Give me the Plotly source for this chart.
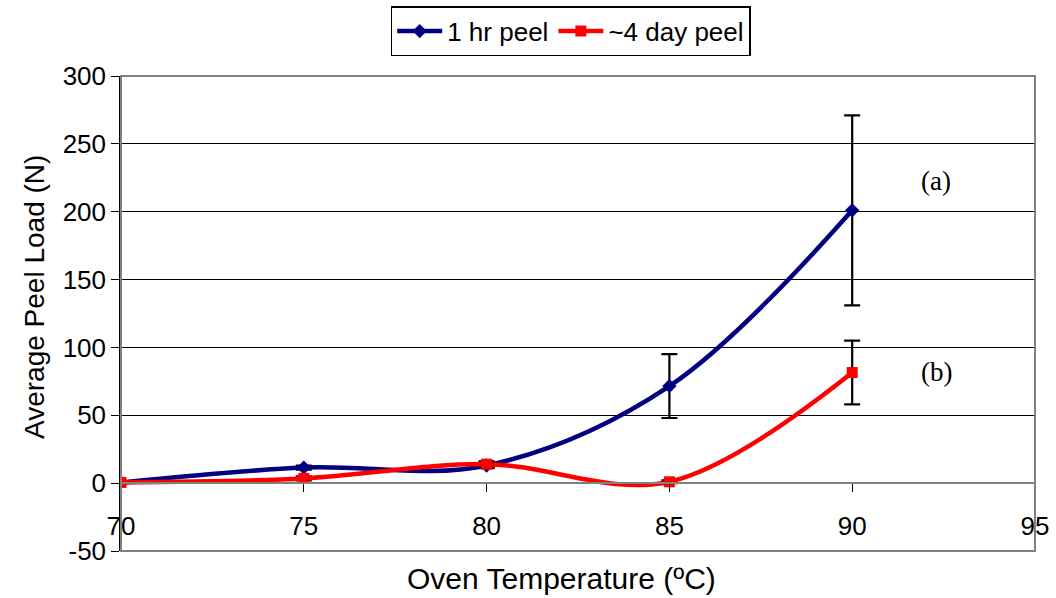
import plotly.graph_objects as go

temps = [70, 75, 80, 85, 90]
peel_1hr = [0.5, 11.5, 13, 71.5, 201]
err_1hr = [0.5, 1.5, 2, 23.5, 70]
peel_4day = [0.5, 3.5, 14, 1, 81.5]
err_4day = [0.5, 1.5, 2, 1, 23.5]

x_ticks = [70, 75, 80, 85, 90, 95]
y_ticks = [-50, 0, 50, 100, 150, 200, 250, 300]

FONT = "Arial, Liberation Sans, sans-serif"

fig = go.Figure()
fig.add_trace(go.Scatter(
    x=temps, y=peel_1hr, name="1 hr peel", mode="lines+markers",
    line=dict(color="#000080", width=4.5, shape="spline", smoothing=1.0),
    marker=dict(symbol="diamond", size=11, color="#000080"),
    error_y=dict(type="data", array=err_1hr, color="black", thickness=2.2, width=8),
))
fig.add_trace(go.Scatter(
    x=temps, y=peel_4day, name="~4 day peel", mode="lines+markers",
    line=dict(color="#FF0000", width=4.5, shape="spline", smoothing=1.0),
    marker=dict(symbol="square", size=11, color="#FF0000"),
    error_y=dict(type="data", array=err_4day, color="black", thickness=2.2, width=8),
))

fig.update_layout(
    width=1056, height=598,
    margin=dict(l=121, r=21, t=76, b=47, autoexpand=False),
    paper_bgcolor="white", plot_bgcolor="white",
    font=dict(family=FONT, size=24, color="black"),
    showlegend=True,
    legend=dict(orientation="h", x=0.492, y=1.147, xanchor="center", yanchor="top",
                bordercolor="black", borderwidth=1.5, bgcolor="white",
                font=dict(size=26), itemwidth=45, tracegroupgap=0),
    xaxis=dict(range=[70, 95], tickvals=x_ticks, ticktext=[str(v) for v in x_ticks],
               anchor="free", position=1/7, showline=True, linecolor="#808080", linewidth=1.5,
               ticks="outside", ticklen=8, tickcolor="black", tickwidth=1,
               ticklabelstandoff=12,
               showgrid=False, zeroline=False, tickfont=dict(size=26)),
    yaxis=dict(range=[-50, 300], tickvals=y_ticks, ticktext=[str(v) for v in y_ticks],
               showline=True, linecolor="black", linewidth=1.5,
               ticks="outside", ticklen=8, tickcolor="black",
               showgrid=True, gridcolor="black", gridwidth=1, zeroline=False,
               tickfont=dict(size=26)),
    shapes=[dict(type="rect", xref="paper", yref="paper", x0=0, x1=1, y0=0, y1=1,
                 line=dict(color="#808080", width=2), layer="above")],
    annotations=[
        dict(text="Oven Temperature (ºC)", xref="paper", yref="paper", x=0.482, y=-0.057,
             xanchor="center", yanchor="middle", showarrow=False, font=dict(size=30)),
        dict(text="Average Peel Load (N)", xref="paper", yref="paper", x=-0.094, y=0.535,
             xanchor="center", yanchor="middle", textangle=-90, showarrow=False, font=dict(size=28)),
        dict(text="(a)", x=92.3, y=222.5, showarrow=False,
             font=dict(family="Times New Roman, Liberation Serif, serif", size=27)),
        dict(text="(b)", x=92.3, y=81.8, showarrow=False,
             font=dict(family="Times New Roman, Liberation Serif, serif", size=27)),
    ],
)

fig.write_html("out.html")
